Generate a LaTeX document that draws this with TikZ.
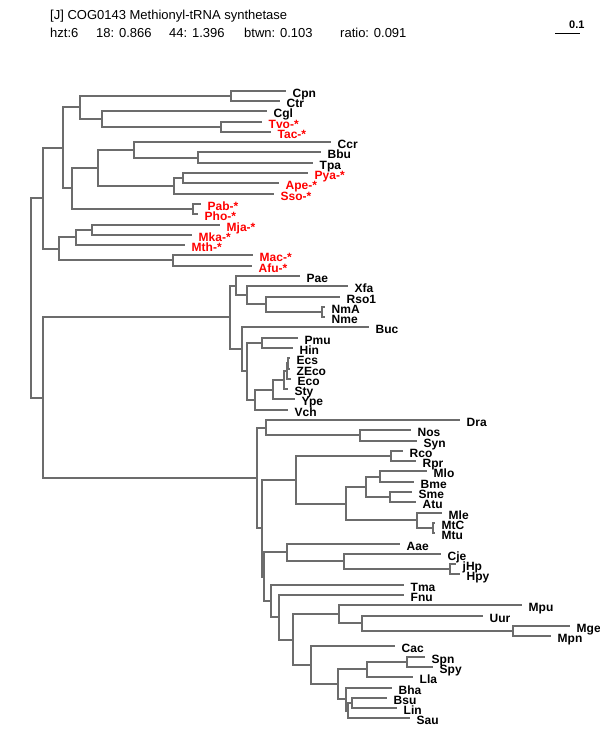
\documentclass[tikz,border=0pt]{standalone}
\usepackage{fontspec}
\setmainfont{Liberation Sans}
\definecolor{brgray}{RGB}{108,108,108}
\begin{document}
\begin{tikzpicture}[x=1pt,y=-1pt,
  br/.style={draw=brgray, line width=2pt, line join=miter},
  lab/.style={anchor=base west, inner sep=0pt, font=\fontsize{12}{12}\selectfont\bfseries},
  rlab/.style={lab, text=red},
  hdr/.style={anchor=base west, inner sep=0pt, font=\fontsize{13}{13}\selectfont}]
\useasboundingbox[fill=white] (0,0) rectangle (600,750);
% header
\node[hdr] (title) at (50,19) {[J] COG0143 Methionyl-tRNA synthetase};
\node[hdr] (h1) at (50,37) {hzt:6};
\node[hdr] (h2) at (96,37) {18: 0.866};
\node[hdr] (h3) at (169,37) {44: 1.396};
\node[hdr] (h4) at (244,37) {btwn: 0.103};
\node[hdr] (h5) at (340,37) {ratio: 0.091};
% scale bar
\coordinate (s1) at (555,33);
\coordinate (s2) at (580,33);
\draw[black, line width=1pt] (s1) -- (s2);
\node[lab, font=\fontsize{11}{11}\selectfont\bfseries] (sl) at (569,28) {0.1};
% leaves
\foreach \n/\x/\y in {Cpn/286/91, Ctr/280/101, Cgl/267/111, Tvo/262/122, Tac/271/132,
  Ccr/331/142, Bbu/321/152, Tpa/313/163, Pya/308/173, Ape/279/183, Sso/274/194,
  Pab/201/204, Pho/198/214, Mja/220/225, Mka/192/235, Mth/185/245, Mac/253/255, Afu/252/266,
  Pae/300/276, Xfa/348/286, Rso1/340/297, NmA/325/307, Nme/325/317, Buc/369/327,
  Pmu/298/338, Hin/293/348, Ecs/290/358, ZEco/290/369, Eco/291/379, Sty/288/389,
  Ype/295/399, Vch/288/410, Dra/460/420, Nos/411/430, Syn/417/441, Rco/403/451,
  Rpr/416/461, Mlo/427/471, Bme/414/482, Sme/412/492, Atu/416/502, Mle/442/513,
  MtC/435/523, Mtu/435/533, Aae/400/544, Cje/441/554, jHp/456/564, Hpy/460/574,
  Tma/404/585, Fnu/404/595, Mpu/522/605, Uur/483/616, Mge/570/626, Mpn/551/636,
  Cac/395/646, Spn/425/657, Spy/433/667, Lla/413/677, Bha/392/688, Bsu/387/698,
  Lin/397/708, Sau/410/718}
  \coordinate (\n) at (\x,\y);
% internal nodes
\foreach \n/\x/\y in {a1/231/96, a2/221/127, a3/102/119, a4/80/107, a5/198/158,
  a6/134/150, a7/183/178, a8/174/186, a9/98/168, a10/193/209, a11/72/188,
  a12/63/148, a13/92/230, a14/76/237, a15/173/260, a16/59/249, A/43/198,
  b1/322/312, b2/266/304, b3/247/295, b4/236/286, b5/262/343, b6/288/363,
  b7/287/371, b8/284/380, b9/273/390, b10/255/400, b11/247/371, b12/242/349,
  b13/230/317,
  c1/360/435, c2/266/428, c3/391/456, c4/380/477, c5/390/497, c6/366/487,
  c7/433/528, c8/417/520, c9/346/504, c10/296/480, c11/450/569, c12/344/561,
  c13/287/552, c14/513/631, c15/362/623, c16/339/614, c17/407/662,
  c18/367/669, c19/352/703, c20/348/711, c21/346/699, c22/338/684, c23/311/665,
  c24/293/640, c25/279/617, c26/271/601, c27/264/577, c28/262/528, c29/257/478,
  B/43/398, root/31/298}
  \coordinate (\n) at (\x,\y);
% branches
\foreach \p/\c in {a1/Cpn, a1/Ctr, a2/Tvo, a2/Tac, a3/Cgl, a3/a2, a4/a1, a4/a3, a5/Bbu, a5/Tpa,
  a6/Ccr, a6/a5, a7/Pya, a7/Ape, a8/a7, a8/Sso, a9/a6, a9/a8, a10/Pab, a10/Pho, a11/a9, a11/a10,
  a12/a4, a12/a11, a13/Mja, a13/Mka, a14/a13, a14/Mth, a15/Mac, a15/Afu, a16/a14, a16/a15, A/a12, A/a16,
  b1/NmA, b1/Nme, b2/Rso1, b2/b1, b3/Xfa, b3/b2, b4/Pae, b4/b3, b5/Pmu, b5/Hin, b6/Ecs, b6/ZEco,
  b7/b6, b7/Eco, b8/b7, b8/Sty, b9/b8, b9/Ype, b10/b9, b10/Vch, b11/b5, b11/b10, b12/Buc, b12/b11,
  b13/b4, b13/b12,
  c1/Nos, c1/Syn, c2/Dra, c2/c1, c3/Rco, c3/Rpr, c4/Mlo, c4/Bme, c5/Sme, c5/Atu, c6/c4, c6/c5,
  c7/MtC, c7/Mtu, c8/Mle, c8/c7, c9/c6, c9/c8, c10/c3, c10/c9, c11/jHp, c11/Hpy, c12/Cje, c12/c11,
  c13/Aae, c13/c12, c14/Mge, c14/Mpn, c15/Uur, c15/c14, c16/Mpu, c16/c15, c17/Spn, c17/Spy,
  c18/c17, c18/Lla, c19/Bsu, c19/Lin, c20/c19, c20/Sau, c21/Bha, c21/c20, c22/c18, c22/c21,
  c23/Cac, c23/c22, c24/c16, c24/c23, c25/Fnu, c25/c24, c26/Tma, c26/c25, c27/c13, c27/c26,
  c28/c10, c28/c27, c29/c2, c29/c28, B/b13, B/c29, root/A, root/B}
  \draw[br] (\p) |- (\c);
% labels
\foreach \n in {Cpn, Ctr, Cgl, Ccr, Bbu, Tpa, Pae, Xfa, Rso1, NmA, Nme, Buc, Pmu, Hin, Ecs, ZEco, Eco,
  Sty, Ype, Vch, Dra, Nos, Syn, Rco, Rpr, Mlo, Bme, Sme, Atu, Mle, MtC, Mtu, Aae, Cje, jHp, Hpy,
  Tma, Fnu, Mpu, Uur, Mge, Mpn, Cac, Spn, Spy, Lla, Bha, Bsu, Lin, Sau}
  \node[lab] (l\n) at ([shift={(6.5,6)}]\n) {\n};
\foreach \n in {Tvo, Tac, Pya, Ape, Sso, Pab, Pho, Mja, Mka, Mth, Mac, Afu}
  \node[rlab] (l\n) at ([shift={(6.5,6)}]\n) {\n-*};
\end{tikzpicture}
\end{document}
